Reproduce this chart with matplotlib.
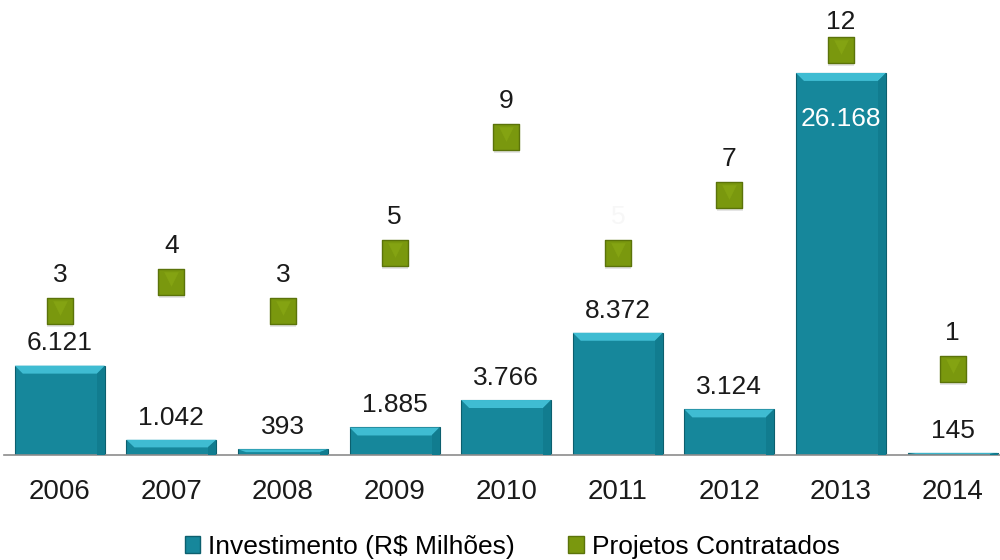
import matplotlib
matplotlib.use("Agg")
import matplotlib.pyplot as plt
from matplotlib.patches import Polygon, Patch
import numpy as np

plt.rcParams['font.family'] = ['Liberation Sans', 'DejaVu Sans']

years = ['2006', '2007', '2008', '2009', '2010', '2011', '2012', '2013', '2014']
investimento = [6121, 1042, 393, 1885, 3766, 8372, 3124, 26168, 145]
inv_labels = ['6.121', '1.042', '393', '1.885', '3.766', '8.372', '3.124', '26.168', '145']
projetos = [3, 4, 3, 5, 9, 5, 7, 12, 1]
proj_label_colors = ['#1a1a1a'] * 5 + ['#f7f7f7'] + ['#1a1a1a'] * 3

BAR = '#16879b'
BAR_LIGHT = '#3fbcd2'
BAR_DARK = '#0c5f6e'
MK = '#7a980e'
MK_EDGE = '#5b730a'

fig = plt.figure(figsize=(10, 5.6), dpi=100)
ax = fig.add_axes([0.004, 1 - 455 / 560, 0.996, 435 / 560])
x = np.arange(len(years))
w = 0.806
bars = ax.bar(x, investimento, width=w, color=BAR, edgecolor=BAR_DARK, linewidth=0.8, zorder=2)
ax.set_xlim(-0.5, 8.425)
ymax = 435 / 0.0146
ax.set_ylim(0, ymax)

# bevel highlights (styling only)
px_y = ymax / 435.0
px_x = 1 / 111.6
for b in bars:
    x0, y0 = b.get_x(), b.get_y()
    bw, bh = b.get_width(), b.get_height()
    t = min(8 * px_y, bh / 2)
    tx = min(8 * px_x, bw / 2)
    top = Polygon([[x0, y0 + bh], [x0 + bw, y0 + bh], [x0 + bw - tx, y0 + bh - t], [x0 + tx, y0 + bh - t]],
                  closed=True, facecolor=BAR_LIGHT, edgecolor='none', zorder=3)
    ax.add_patch(top)
    right = Polygon([[x0 + bw, y0 + bh], [x0 + bw, y0], [x0 + bw - tx, y0], [x0 + bw - tx, y0 + bh - t]],
                    closed=True, facecolor='#117c8f', edgecolor='none', zorder=3)
    ax.add_patch(right)

for i, (v, lab) in enumerate(zip(investimento, inv_labels)):
    if v > 20000:
        ax.annotate(lab, (x[i], v), xytext=(0, -33), textcoords='offset points', ha='center', va='center',
                    fontsize=19, color='white', zorder=5)
    else:
        ax.annotate(lab, (x[i], v), xytext=(0, 16), textcoords='offset points', ha='center', va='center',
                    fontsize=19, color='#1a1a1a', zorder=5)

for s in ['top', 'right', 'left']:
    ax.spines[s].set_visible(False)
ax.spines['bottom'].set_color('#8c8c8c')
ax.spines['bottom'].set_linewidth(1.2)
ax.set_yticks([])
ax.set_xticks(x)
ax.set_xticklabels(years, fontsize=20, color='#1a1a1a')
ax.tick_params(axis='x', length=0, pad=17)

ax2 = ax.twinx()
ax2.set_ylim(-57 / 29, (398 - 20) / 29)
ax2.set_yticks([])
for s in ax2.spines.values():
    s.set_visible(False)
pj = np.array(projetos, dtype=float)
ax2.scatter(x + 0.004, pj - 0.1, marker='s', s=330, color='#d4d4d4', alpha=0.6, zorder=3, linewidths=0)
ax2.scatter(x, pj, marker='s', s=330, color=MK, edgecolors=MK_EDGE, linewidths=1, zorder=4)
ax2.scatter(x, pj + 0.1, marker='v', s=110, color='#84a312', linewidths=0, zorder=5)
for i, p in enumerate(projetos):
    off = 20 if p > 10 else 26
    ax2.annotate(str(p), (x[i], p), xytext=(0, off), textcoords='offset points', ha='center', va='center',
                 fontsize=19, color=proj_label_colors[i], zorder=6)

handles = [Patch(facecolor=BAR, edgecolor=BAR_DARK), Patch(facecolor=MK, edgecolor=MK_EDGE)]
fig.legend(handles, ['Investimento (R$ Milhões)', 'Projetos Contratados'], loc='center',
           bbox_to_anchor=(0.512, 1 - 547 / 560), ncol=2, frameon=False, fontsize=19,
           handlelength=0.6, handleheight=0.6, handletextpad=0.3, columnspacing=2.0)

fig.savefig('out.png', dpi=100)
